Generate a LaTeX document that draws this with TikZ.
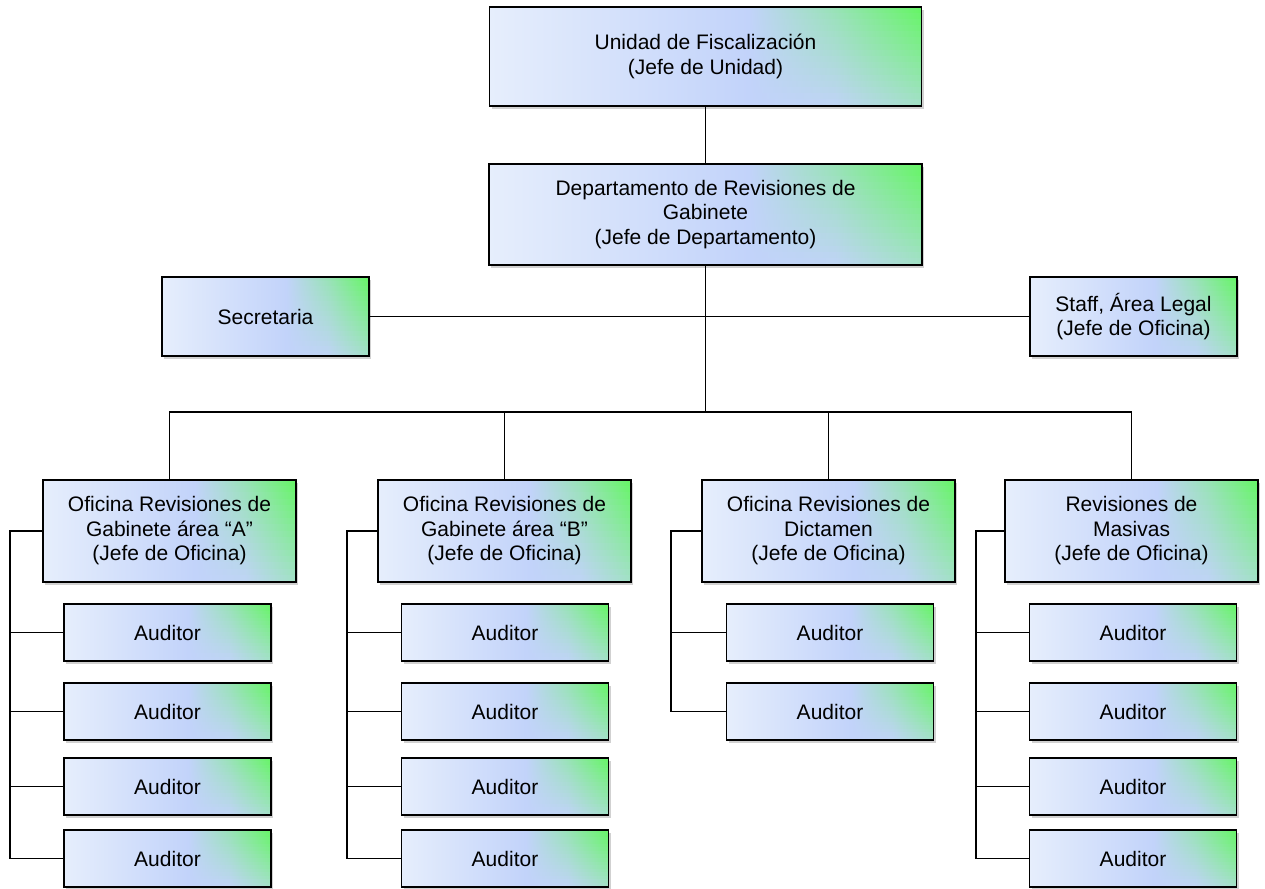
\documentclass[tikz,border=0pt]{standalone}
\usepackage{fontspec}
\setmainfont{Liberation Sans}
\usetikzlibrary{shadows,calc}
\definecolor{gA}{HTML}{E6EEFC}
\definecolor{gB}{HTML}{C2D3FA}
\definecolor{gC}{HTML}{B6DAE6}
\definecolor{gD}{HTML}{66F566}
\colorlet{rm}{gB}
\colorlet{rc}{gD}
\pgfdeclarehorizontalshading[rm,rc]{boxshadevar}{100bp}{color(0bp)=(gA); color(25bp)=(gA); color(55bp)=(gB); color(65bp)=(rm); color(75bp)=(rc); color(100bp)=(rc)}
\tikzset{
  orgbox/.style={draw=black, line width=1.6pt, fill=gB, inner sep=2pt, align=center,
    font=\fontsize{21}{24.5}\selectfont, text=black,
    path picture={
      \foreach \k in {0,...,15}{
        \pgfmathtruncatemacro\pc{100-72*\k/15}
        \pgfmathtruncatemacro\pm{45-40*\k/15}
        \colorlet{rc}{gD!\pc!gC}
        \colorlet{rm}{gD!\pm!gB}
        \shade[shading=boxshadevar]
          ($(path picture bounding box.north west)!{\k/16}!(path picture bounding box.south west)$)
          rectangle
          ($(path picture bounding box.north east)!{(\k+1.15)/16}!(path picture bounding box.south east)$);
      }
    },
    drop shadow={shadow xshift=2pt, shadow yshift=-3pt, fill=black!40, opacity=0.45}},
  auditbox/.style={orgbox, minimum width=207pt, minimum height=57pt},
  officebox/.style={orgbox, minimum width=253pt, minimum height=102pt},
  link/.style={draw=black, line width=1.6pt}
}
\begin{document}
\begin{tikzpicture}[x=1pt,y=-1pt]
\useasboundingbox (0,0) rectangle (1265,888);
% top levels
\node[orgbox, minimum width=432pt, minimum height=99pt] (U) at (705.5,56.5) {Unidad de Fiscalización\\(Jefe de Unidad)};
\node[orgbox, minimum width=433pt, minimum height=101pt] (D) at (705.5,214.5) {Departamento de Revisiones de\\Gabinete\\(Jefe de Departamento)};
\node[orgbox, minimum width=207pt, minimum height=79pt] (S) at (265.5,316.5) {Secretaria};
\node[orgbox, minimum width=207pt, minimum height=79pt] (L) at (1133.5,316.5) {Staff, Área Legal\\(Jefe de Oficina)};
% offices
\node[officebox] (OA) at (169.5,531) {Oficina Revisiones de\\Gabinete área “A”\\(Jefe de Oficina)};
\node[officebox] (OB) at (504.5,531) {Oficina Revisiones de\\Gabinete área “B”\\(Jefe de Oficina)};
\node[officebox] (OD) at (828.5,531) {Oficina Revisiones de\\Dictamen\\(Jefe de Oficina)};
\node[officebox] (OM) at (1131.5,531) {Revisiones de\\Masivas\\(Jefe de Oficina)};
% auditors
\foreach \r/\y in {1/632.5,2/711.5,3/786.5,4/858.5}{
  \node[auditbox] (A\r) at (167.5,\y) {Auditor};
  \node[auditbox] (B\r) at (505,\y) {Auditor};
  \node[auditbox] (M\r) at (1133,\y) {Auditor};
}
\node[auditbox] (C1) at (830,632.5) {Auditor};
\node[auditbox] (C2) at (830,711.5) {Auditor};
% helper coordinates
\coordinate (bus) at (705.5,412);
\coordinate (sA) at (10,531);
\coordinate (sB) at (347,531);
\coordinate (sD) at (671,531);
\coordinate (sM) at (976,531);
% connectors
\draw[link] (U.south) -- (D.north);
\draw[link] (D.south) -- (bus);
\draw[link] (S.east) -- (L.west);
\draw[link] (OA.north) |- (bus) -| (OM.north);
\draw[link] (OB.north) -- (OB.north |- bus);
\draw[link] (OD.north) -- (OD.north |- bus);
\draw[link] (OA.west) -- (sA) |- (A4.west);
\draw[link] (OB.west) -- (sB) |- (B4.west);
\draw[link] (OD.west) -- (sD) |- (C2.west);
\draw[link] (OM.west) -- (sM) |- (M4.west);
\foreach \r in {1,2,3}{
  \draw[link] (sA |- A\r.west) -- (A\r.west);
  \draw[link] (sB |- B\r.west) -- (B\r.west);
  \draw[link] (sM |- M\r.west) -- (M\r.west);
}
\draw[link] (sD |- C1.west) -- (C1.west);
\end{tikzpicture}
\end{document}
